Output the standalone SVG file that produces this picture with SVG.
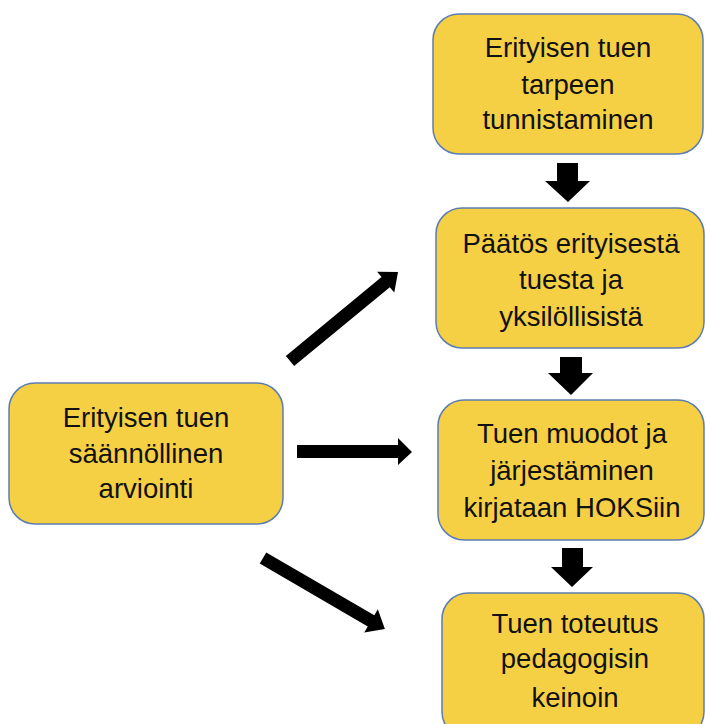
<svg xmlns="http://www.w3.org/2000/svg" width="706" height="724" viewBox="0 0 706 724">
<style>
.box{fill:#F6D044;stroke:#5B7DB1;stroke-width:1.5}
.t{font-family:"Liberation Sans",Arial,sans-serif;font-size:27.5px;fill:#111;text-anchor:middle}
.arr{fill:#000}
</style>
<rect width="706" height="724" fill="#fff"/>
<g id="node-tunnistaminen">
<rect class="box" x="433" y="14" width="270" height="140" rx="26"/>
<text class="t" x="568" y="57">Erityisen tuen</text>
<text class="t" x="568" y="94">tarpeen</text>
<text class="t" x="568" y="129">tunnistaminen</text>
</g>
<g id="node-paatos">
<rect class="box" x="436" y="208" width="268" height="140" rx="26"/>
<text class="t" x="571" y="253">Päätös erityisestä</text>
<text class="t" x="571" y="289">tuesta ja</text>
<text class="t" x="571" y="326">yksilöllisistä</text>
</g>
<g id="node-hoks">
<rect class="box" x="438" y="400" width="266" height="140" rx="26"/>
<text class="t" x="572" y="443">Tuen muodot ja</text>
<text class="t" x="572" y="480">järjestäminen</text>
<text class="t" x="572" y="517">kirjataan HOKSiin</text>
</g>
<g id="node-toteutus">
<rect class="box" x="442" y="593" width="262" height="145" rx="26"/>
<text class="t" x="575" y="633">Tuen toteutus</text>
<text class="t" x="575" y="668">pedagogisin</text>
<text class="t" x="575" y="707">keinoin</text>
</g>
<g id="node-arviointi">
<rect class="box" x="9" y="383" width="274" height="141" rx="26"/>
<text class="t" x="146" y="427">Erityisen tuen</text>
<text class="t" x="146" y="463">säännöllinen</text>
<text class="t" x="146" y="498">arviointi</text>
</g>
<g id="connectors">
<polygon class="arr" points="557,163 578,163 578,181 590,181 568,202 545,181 557,181"/>
<polygon class="arr" points="560,357 582,357 582,373 593,373 571,395 548,373 560,373"/>
<polygon class="arr" points="562,548 583,548 583,567 593,567 572,587 551,567 562,567"/>
<polygon class="arr" transform="translate(290,361) rotate(-39.5)" points="0,-6.5 124,-6.5 124,-13.5 140,0 124,13.5 124,6.5 0,6.5"/>
<polygon class="arr" points="297,445 398,445 398,438 412,452 398,465 398,458 297,458"/>
<polygon class="arr" transform="translate(263,558) rotate(30.2)" points="0,-6.5 125,-6.5 125,-13.5 141,0 125,13.5 125,6.5 0,6.5"/>
</g>
</svg>
